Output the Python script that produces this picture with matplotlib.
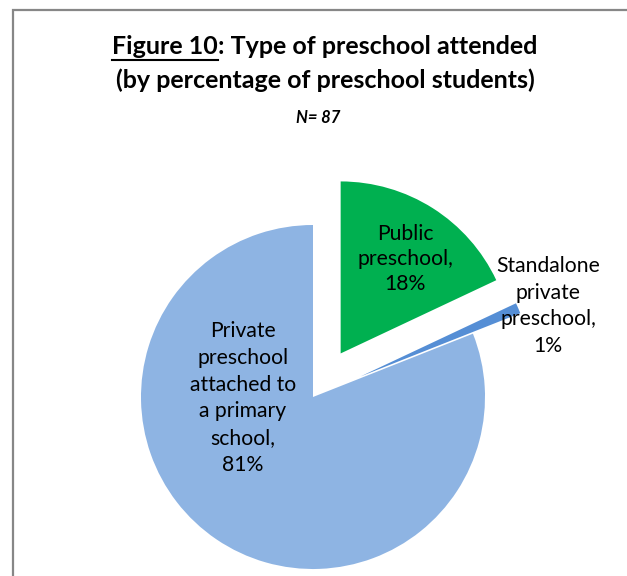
import matplotlib
matplotlib.use("Agg")
import matplotlib.pyplot as plt
from matplotlib.lines import Line2D

plt.rcParams['font.family'] = ['Lato', 'DejaVu Sans']

categories = ['Public\npreschool,', 'Standalone\nprivate\npreschool,', 'Private\npreschool\nattached to\na primary\nschool,']
shares = [18, 1, 81]
colors = ['#00B050', '#558ED5', '#8EB4E3']
explode_frac = [0.3, 0.3, 0.0]

W, H = 627, 576
fig = plt.figure(figsize=(W / 100, H / 100), dpi=100)
ax = fig.add_axes([0, 0, 1, 1])

cx, cy, r = 313, H - 397, 172
ax.pie(shares, colors=colors, explode=[f * r for f in explode_frac], startangle=90,
       counterclock=False, center=(cx, cy), radius=r, frame=True,
       wedgeprops=dict(linewidth=0))
ax.set_xlim(0, W)
ax.set_ylim(0, H)
ax.set_aspect('equal')
ax.axis('off')

# data labels (positions as placed in the original)
label_pos = [(405, H - 259), (548, H - 306), (243, H - 398)]
label_spacing = [1.32, 1.42, 1.42]
for cat, val, (lx, ly), ls in zip(categories, shares, label_pos, label_spacing):
    ax.text(lx, ly, f"{cat}\n{val}%", ha='center', va='center', fontsize=15.2,
            color='black', linespacing=ls)

# chart frame (left and top border)
ax.add_line(Line2D([13, 13, W], [0, H - 10, H - 10], color='#878787', linewidth=1.6,
                   solid_joinstyle='miter'))

# title with underlined "Figure 10"
fig.canvas.draw()
renderer = fig.canvas.get_renderer()
ty = H - 47
t1 = ax.text(0, ty, "Figure 10", fontsize=18, fontweight='bold', ha='left', va='center')
t2 = ax.text(0, ty, ": Type of preschool attended", fontsize=18, fontweight='bold',
             ha='left', va='center')
w1 = t1.get_window_extent(renderer).width
w2 = t2.get_window_extent(renderer).width
x0 = 325 - (w1 + w2) / 2
t1.set_x(x0)
t2.set_x(x0 + w1)
ax.add_line(Line2D([x0, x0 + w1], [ty - 13, ty - 13], color='black', linewidth=1.5))
ax.text(325, H - 80, "(by percentage of preschool students)", fontsize=18,
        fontweight='bold', ha='center', va='center')
ax.text(318, H - 118, "N= 87", fontsize=12, fontweight='bold', fontstyle='italic',
        ha='center', va='center')

fig.savefig('out.png', dpi=100)
